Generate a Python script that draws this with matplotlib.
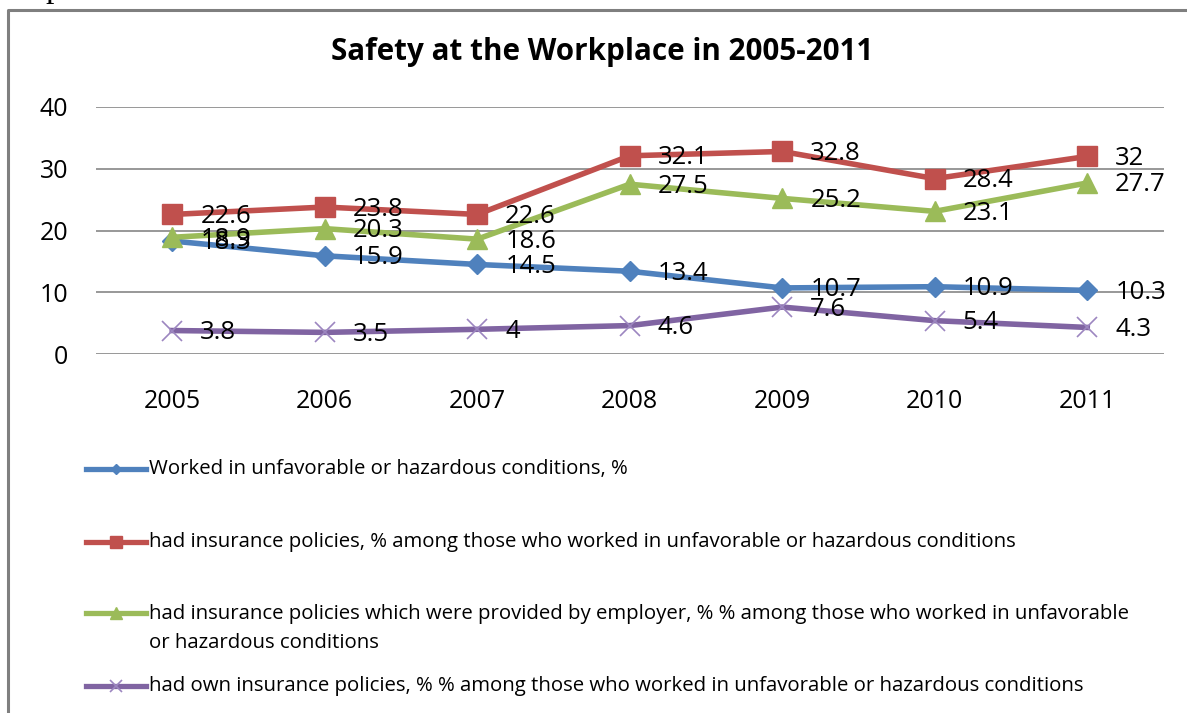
import numpy as np
import matplotlib
matplotlib.use('agg')
from matplotlib import pyplot as plt
from matplotlib.lines import Line2D

years = ['2005', '2006', '2007', '2008', '2009', '2010', '2011']
worked_hazard = [18.3, 15.9, 14.5, 13.4, 10.7, 10.9, 10.3]
had_insurance = [22.6, 23.8, 22.6, 32.1, 32.8, 28.4, 32]
employer_insurance = [18.9, 20.3, 18.6, 27.5, 25.2, 23.1, 27.7]
own_insurance = [3.8, 3.5, 4, 4.6, 7.6, 5.4, 4.3]

series_names = [
    'Worked in unfavorable or hazardous conditions, %',
    'had insurance policies, % among those who worked in unfavorable or hazardous conditions',
    'had insurance policies which were provided by employer, % % among those who worked in unfavorable\nor hazardous conditions',
    'had own insurance policies, % % among those who worked in unfavorable or hazardous conditions',
]

W, H = 1187, 713
plt.rcParams['font.family'] = ['Open Sans', 'DejaVu Sans']

fig = plt.figure(figsize=(W / 100, H / 100), dpi=100)
ax = fig.add_axes([96 / W, 1 - 354 / H, (1163.5 - 96) / W, (354 - 107) / H])

styles = [
    dict(color='#4F81BD', marker='D', ms=10.5, mec='#4F81BD'),
    dict(color='#C0504D', marker='s', ms=15, mec='#C0504D'),
    dict(color='#9BBB59', marker='^', ms=15, mec='#9BBB59'),
    dict(color='#8064A2', marker='x', ms=15, mec='#9C86C0', mew=1.2),
]
all_values = [worked_hazard, had_insurance, employer_insurance, own_insurance]

x = np.arange(len(years))
for vals, st in zip(all_values, styles):
    ax.plot(x, vals, lw=4, zorder=3, **st)
    for xi, v in zip(x, vals):
        ax.annotate(f'{v:g}', xy=(xi, v), xytext=(28, -2), textcoords='offset pixels',
                    ha='left', va='center', fontsize=18.5, color='black', zorder=5)

ax.set_xlim(-0.5, 6.5)
ax.set_ylim(0, 40)
ax.set_yticks([0, 10, 20, 30, 40])
ax.set_xticks(x)
ax.set_xticklabels(years)
ax.yaxis.grid(True, color='#868686', lw=1.2)
ax.set_axisbelow(True)
for s in ax.spines.values():
    s.set_visible(False)
ax.tick_params(axis='both', length=0, labelsize=18)
ax.tick_params(axis='y', pad=20)
ax.tick_params(axis='x', pad=25)

fig.text(602 / W, 1 - 52 / H, 'Safety at the Workplace in 2005-2011', ha='center', va='center',
         fontsize=21.3, fontweight='bold')

# legend drawn by hand below the plot
legend_y = [469, 542, 613, 686]
text_y = [469, 542, 628, 686]
legend_ms = [5.5, 9, 8, 8]
for name, st, ly, ty, lms in zip(series_names, styles, legend_y, text_y, legend_ms):
    yf = 1 - ly / H
    fig.add_artist(Line2D([86 / W, 146 / W], [yf, yf], transform=fig.transFigure,
                          color=st['color'], lw=3.8))
    fig.add_artist(Line2D([116 / W], [yf], transform=fig.transFigure, color=st['color'],
                          marker=st['marker'], ms=lms, mec=st['mec'], mew=st.get('mew', 1), lw=0))
    fig.text(149 / W, 1 - ty / H, name, ha='left', va='center',
             fontsize=14.7, linespacing=1.6)

# page frame around the chart
fig.add_artist(Line2D([8 / W, 8 / W, 1.01], [-0.01, 1 - 10 / H, 1 - 10 / H],
                      transform=fig.transFigure, color='#7F7F7F', lw=2.2))
fig.text(45 / W, 1 + 3 / H, 'p', family='Liberation Serif', fontsize=24, va='baseline')

fig.savefig('out.png', dpi=100)
